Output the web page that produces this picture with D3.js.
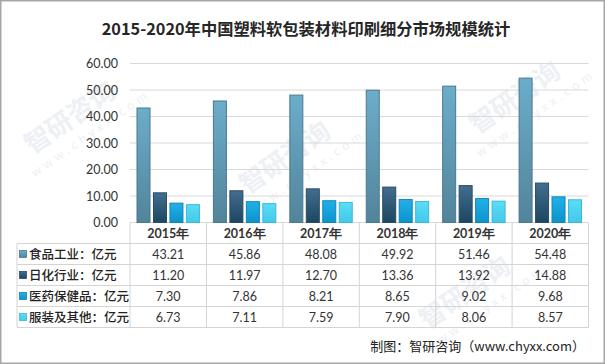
<!DOCTYPE html>
<html><head><meta charset="utf-8">
<script src="https://cdn.jsdelivr.net/npm/d3@7/dist/d3.min.js"></script>
<style>body{margin:0;background:#fff;}svg{display:block;}</style>
</head><body>
<script>
const years = ["2015年","2016年","2017年","2018年","2019年","2020年"];
const seriesNames = ["食品工业：亿元","日化行业：亿元","医药保健品：亿元","服装及其他：亿元"];
const food = [43.21,45.86,48.08,49.92,51.46,54.48];
const daily = [11.20,11.97,12.70,13.36,13.92,14.88];
const medicine = [7.30,7.86,8.21,8.65,9.02,9.68];
const clothing = [6.73,7.11,7.59,7.90,8.06,8.57];
const yTicks = [0,10,20,30,40,50,60];
const seriesValues = [food, daily, medicine, clothing];
const colorsTop = ["#6cadcb","#436d8d","#22b0e8","#5cdcf6"];
const colorsBot = ["#52849a","#1b4762","#0c93cb","#42c9ea"];
const strokes = ["#4a7990","#2a4c66","#0f86b8","#3ab9d8"];

const W=605,H=364;
const svg=d3.select("body").append("svg").attr("width",W).attr("height",H);
const defs=svg.append("defs");
seriesNames.forEach((s,i)=>{
  const g=defs.append("linearGradient").attr("id","g"+i).attr("x1",0).attr("y1",0).attr("x2",0).attr("y2",1);
  g.append("stop").attr("offset","0%").attr("stop-color",colorsTop[i]);
  g.append("stop").attr("offset","100%").attr("stop-color",colorsBot[i]);
});
svg.append("rect").attr("x",0.75).attr("y",0.75).attr("width",W-1.5).attr("height",H-1.5).attr("fill","#fff").attr("stroke","#a6a6a6").attr("stroke-width",1.5);

// faint watermarks
const wm=svg.append("g").attr("fill","#edf0f4").attr("font-family","Noto Sans CJK SC").attr("font-weight",700);
[[290,165],[520,105],[75,125],[470,300]].forEach(([x,y])=>{
  const g=wm.append("g").attr("transform",`translate(${x},${y}) rotate(-35)`);
  g.append("text").attr("x",0).attr("y",0).attr("font-size",26).attr("text-anchor","middle").text("智研咨询");
  g.append("text").attr("x",8).attr("y",20).attr("font-size",12).attr("font-weight",400).attr("letter-spacing",4).attr("text-anchor","middle").text("www.chyxx.com");
});

svg.append("text").attr("x",306).attr("y",35).attr("text-anchor","middle")
  .attr("font-family","Noto Sans CJK SC").attr("font-weight",700).attr("font-size",16.3).attr("fill","#262626")
  .text("2015-2020年中国塑料软包装材料印刷细分市场规模统计");

const x=d3.scaleBand().domain(years).range([130,588.5]);
const xi=d3.scaleBand().domain(seriesNames).range([6.5,x.bandwidth()-6.5]).paddingInner(0.15);
const y=d3.scaleLinear().domain([0,60]).range([222.5,63.5]);

// gridlines
svg.append("g").selectAll("line").data(yTicks).join("line")
  .attr("x1",130).attr("x2",588.5).attr("y1",d=>y(d)).attr("y2",d=>y(d))
  .attr("stroke","#d9d9d9").attr("stroke-width",1);

const yAxis=d3.axisLeft(y).tickValues(yTicks).tickFormat(d3.format(".2f")).tickSize(0).tickPadding(12);
const ya=svg.append("g").attr("transform","translate(130,0)").call(yAxis);
ya.select(".domain").remove();
ya.selectAll("text").attr("font-family","Lato").attr("font-size",12.5).attr("fill","#333");

// bars
seriesValues.forEach((vals,i)=>{
  svg.append("g").selectAll("rect").data(vals).join("rect")
    .attr("x",(d,j)=>x(years[j])+xi(seriesNames[i])+0.5)
    .attr("y",d=>y(d))
    .attr("width",xi.bandwidth()-1)
    .attr("height",d=>y(0)-y(d))
    .attr("fill",`url(#g${i})`).attr("stroke",strokes[i]).attr("stroke-width",1);
});

// table
const rows=d3.scaleBand().domain(["head",...seriesNames]).range([222.5,327.5]);
const tg=svg.append("g");
const lc="#d4d4d4";
["head",...seriesNames].forEach((r,k)=>{
  const yy=rows(r)+rows.bandwidth();
  tg.append("line").attr("x1",17).attr("x2",588.5).attr("y1",yy).attr("y2",yy).attr("stroke",lc);
});
tg.append("line").attr("x1",17).attr("x2",17).attr("y1",rows(seriesNames[0])).attr("y2",327.5).attr("stroke",lc);
years.forEach(yr=>{
  tg.append("line").attr("x1",x(yr)).attr("x2",x(yr)).attr("y1",222.5).attr("y2",327.5).attr("stroke",lc);
});
tg.append("line").attr("x1",588.5).attr("x2",588.5).attr("y1",222.5).attr("y2",327.5).attr("stroke",lc);
tg.selectAll("text.yr").data(years).join("text").attr("class","yr")
  .attr("x",d=>x(d)+x.bandwidth()/2).attr("y",rows("head")+rows.bandwidth()/2+4.5)
  .attr("text-anchor","middle").attr("font-family","Lato").attr("font-weight",700).attr("font-size",12.5).attr("fill","#333")
  .text(d=>d);
seriesNames.forEach((s,i)=>{
  const cy=rows(s)+rows.bandwidth()/2;
  tg.append("rect").attr("x",19.5).attr("y",cy-3.5).attr("width",7).attr("height",7)
    .attr("fill",`url(#g${i})`).attr("stroke",strokes[i]).attr("stroke-width",0.8);
  tg.append("text").attr("x",29).attr("y",cy+4.5).attr("font-family","Noto Sans CJK SC").attr("font-weight",500)
    .attr("font-size",12.5).attr("fill","#222").text(s);
  tg.selectAll(null).data(seriesValues[i]).join("text")
    .attr("x",(d,j)=>x(years[j])+x.bandwidth()/2).attr("y",cy+4.5)
    .attr("text-anchor","middle").attr("font-family","Lato").attr("font-size",12.5).attr("fill","#333")
    .text(d=>d.toFixed(2));
});

svg.append("text").attr("x",585).attr("y",351).attr("text-anchor","end")
  .attr("font-family","Noto Sans CJK SC").attr("font-size",13).attr("fill","#222")
  .text("制图：智研咨询（www.chyxx.com）");
</script>
</body></html>
